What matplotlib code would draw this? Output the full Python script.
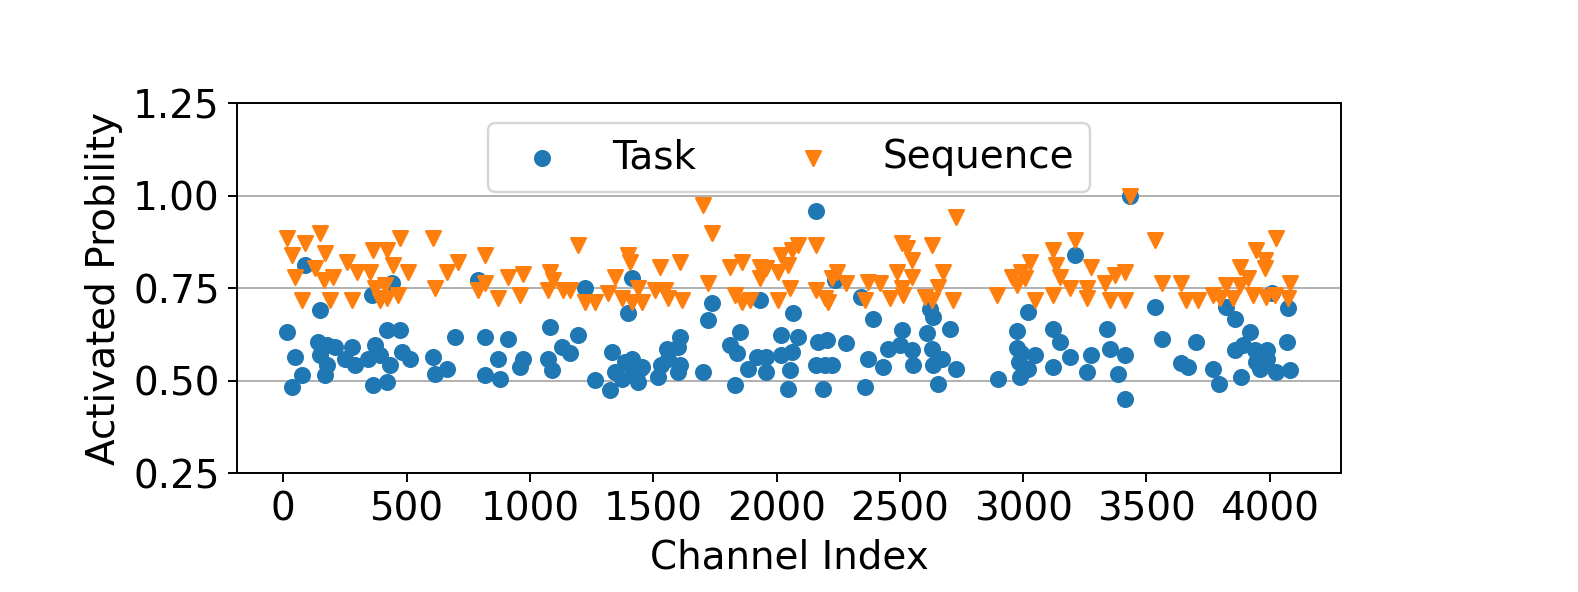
import matplotlib.pyplot as plt


OUTPUT_FILE = "out.png"

# Task (circles): channel index and activated probability
task_idx = [
    88, 148, 13, 48, 74, 34, 142, 176, 209, 148, 176, 169, 277, 250, 291, 344,
    372, 419, 474, 392, 433, 365, 419, 480, 513, 608, 615, 663, 359, 439, 696,
    791, 1222, 1413, 1398, 818, 913, 872, 818, 878, 973, 959, 1081, 1074, 1088,
    1129, 1163, 1196, 1263, 1324, 1331, 1344, 1385, 1413, 1372, 1413, 1446, 1439,
    2162, 1737, 1722, 1608, 1554, 1602, 1561, 1533, 1608, 1520, 1453, 1602, 1702,
    1831, 1811, 1851, 1838, 1885, 1919, 1959, 1959, 1933, 2020, 2020, 2061, 2067,
    2087, 2054, 2047, 2169, 2203, 2162, 2196, 2189,
    2237, 2344, 2392, 2283, 2223, 2372, 2432, 2358, 2452, 2507, 2500, 2548, 2554,
    2609, 2629, 2635, 2622, 2702, 2669, 2635, 2729, 2655, 2898,
    2973, 2977, 2993, 2983, 2988, 3018, 3048, 3020,
    3433, 3209, 3533, 3122, 3148, 3338, 3561, 3702, 3122, 3189, 3277, 3257, 3351,
    3412, 3385, 3412, 3642, 3668, 3770, 3796,
    4007, 4074, 3824, 3858, 3918, 4068, 3858, 3892, 3939, 3987, 3987, 3946, 3959,
    4027, 4081, 3885,
]
task_prob = [
    0.813, 0.691, 0.632, 0.565, 0.515, 0.483, 0.605, 0.596, 0.592, 0.569, 0.542,
    0.515, 0.592, 0.560, 0.542, 0.560, 0.596, 0.637, 0.637, 0.569, 0.542, 0.488,
    0.497, 0.578, 0.560, 0.565, 0.519, 0.533, 0.732, 0.763, 0.619,
    0.772, 0.750, 0.777, 0.682, 0.619, 0.614, 0.560, 0.515, 0.506, 0.560, 0.537,
    0.646, 0.560, 0.528, 0.592, 0.574, 0.623, 0.501, 0.474, 0.578, 0.524, 0.551,
    0.560, 0.506, 0.515, 0.533, 0.497,
    0.958, 0.709, 0.664, 0.619, 0.587, 0.592, 0.560, 0.542, 0.542, 0.510, 0.537,
    0.524, 0.524, 0.488, 0.596, 0.632, 0.574, 0.533, 0.565, 0.565, 0.524, 0.718,
    0.623, 0.569, 0.578, 0.682, 0.619, 0.528, 0.479, 0.605, 0.610, 0.542, 0.542,
    0.479,
    0.772, 0.727, 0.668, 0.601, 0.542, 0.560, 0.537, 0.483, 0.587, 0.637, 0.596,
    0.583, 0.542, 0.628, 0.587, 0.673, 0.695, 0.641, 0.560, 0.542, 0.533, 0.492,
    0.506,
    0.635, 0.590, 0.575, 0.550, 0.510, 0.686, 0.569, 0.533,
    1.000, 0.840, 0.700, 0.641, 0.605, 0.641, 0.614, 0.605, 0.537, 0.565, 0.569,
    0.524, 0.587, 0.569, 0.519, 0.452, 0.547, 0.537, 0.533, 0.492,
    0.736, 0.696, 0.700, 0.668, 0.632, 0.605, 0.583, 0.596, 0.583, 0.583, 0.560,
    0.551, 0.533, 0.524, 0.528, 0.510,
]

# Sequence (triangles)
seq_idx = [
    13, 148, 88, 34, 169, 48, 128, 203, 257, 298, 352, 365, 419, 474, 608, 446,
    507, 372, 413, 392, 419, 466, 74, 189, 277, 615, 663, 163,
    709, 818, 791, 818, 872, 913, 973, 959, 1081, 1074, 1135, 1163, 1196, 1222,
    1263, 1317, 1344, 1398, 1405, 1372, 1413, 1439, 1453, 1094,
    1527, 1608, 1702, 1737, 1507, 1548, 1561, 1615, 1722, 1811, 1859, 1831, 1859,
    1892, 1933, 1959, 1933, 2007, 2020, 2047, 2061, 2087, 2162, 2007, 2054, 2162,
    2196, 2223, 2209,
    2244, 2283, 2358, 2372, 2419, 2459, 2507, 2527, 2548, 2487, 2513, 2548, 2507,
    2629, 2729, 2601, 2629, 2655, 2676, 2716, 2892, 2953, 2973, 2993,
    3433, 3533, 3209, 3122, 3027, 3132, 3277, 3148, 3007, 3048, 3122, 3189, 3257,
    3257, 3331, 3351, 3372, 3412, 3412, 3561, 3642, 3662, 3709, 3770,
    3824, 3878, 3911, 3946, 3979, 3979, 4027, 3851, 3932, 3986, 4020, 4081, 4074,
    3797, 3878,
]
seq_prob = [
    0.885, 0.899, 0.872, 0.840, 0.845, 0.781, 0.804, 0.781, 0.822, 0.795, 0.795,
    0.854, 0.854, 0.885, 0.885, 0.813, 0.795, 0.750, 0.759, 0.718, 0.723, 0.732,
    0.718, 0.718, 0.718, 0.750, 0.795, 0.772,
    0.822, 0.840, 0.745, 0.763, 0.723, 0.781, 0.790, 0.732, 0.795, 0.745, 0.745,
    0.745, 0.867, 0.714, 0.714, 0.736, 0.781, 0.840, 0.822, 0.723, 0.714, 0.750,
    0.714, 0.772,
    0.808, 0.822, 0.976, 0.899, 0.745, 0.745, 0.723, 0.718, 0.763, 0.808, 0.822,
    0.732, 0.714, 0.718, 0.808, 0.804, 0.777, 0.718, 0.840, 0.813, 0.854, 0.867,
    0.867, 0.795, 0.750, 0.745, 0.723, 0.777, 0.714,
    0.795, 0.763, 0.718, 0.768, 0.763, 0.723, 0.872, 0.858, 0.827, 0.795, 0.732,
    0.781, 0.750, 0.867, 0.944, 0.727, 0.718, 0.754, 0.795, 0.718, 0.732, 0.781,
    0.759, 0.795,
    1.000, 0.881, 0.881, 0.854, 0.822, 0.813, 0.808, 0.781, 0.777, 0.718, 0.732,
    0.750, 0.750, 0.723, 0.763, 0.718, 0.786, 0.795, 0.718, 0.763, 0.763, 0.718,
    0.718, 0.732,
    0.759, 0.808, 0.777, 0.854, 0.827, 0.804, 0.885, 0.723, 0.732, 0.727, 0.732,
    0.763, 0.723, 0.723, 0.759,
]


def build_plot(output_path: str) -> None:
    plt.rcParams["font.size"] = 16

    fig = plt.figure(figsize=(1578 / 175, 592 / 175), dpi=175)
    ax = fig.add_axes([0.15, 0.2005, 0.70, 0.625])

    ax.scatter(task_idx, task_prob, marker="o", label="Task")
    ax.scatter(seq_idx, seq_prob, marker="v", label="Sequence")

    ax.set_xlim(-189, 4290)
    ax.set_ylim(0.25, 1.25)
    ax.set_yticks([0.25, 0.5, 0.75, 1.0, 1.25])
    ax.set_xlabel("Channel Index")
    ax.set_ylabel("Activated Probility")

    ax.set_axisbelow(True)
    ax.grid(axis="y")

    ax.legend(loc="upper center", ncol=2)

    fig.savefig(output_path, dpi=175)
    plt.close(fig)


def main() -> None:
    build_plot(OUTPUT_FILE)


if __name__ == "__main__":
    main()
